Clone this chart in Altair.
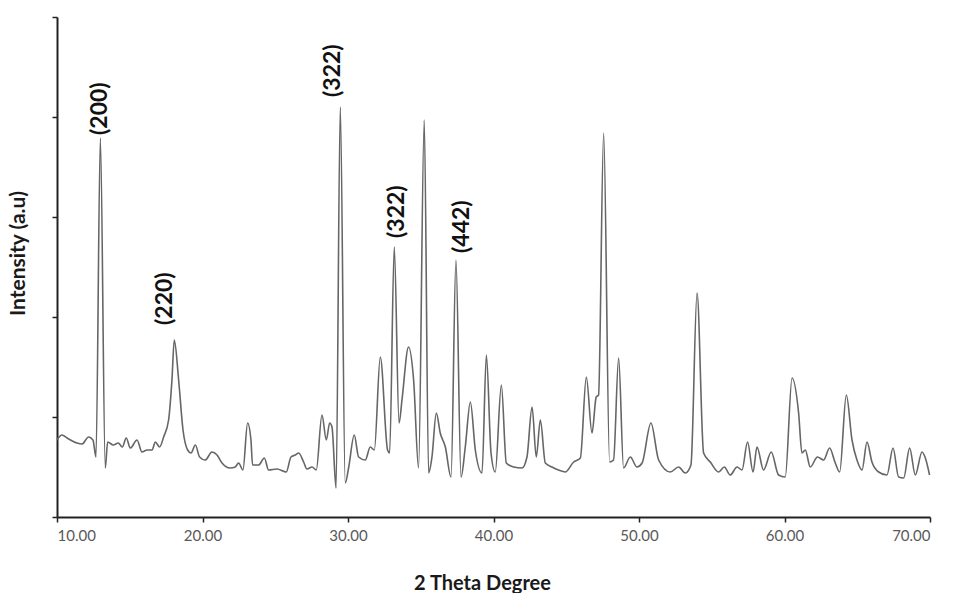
import altair as alt
import pandas as pd

# 2-theta positions (degrees) and intensities (a.u.)
two_theta = [
    10.00, 10.34, 10.69, 11.37, 11.72, 12.17, 12.47, 12.68, 12.98, 13.32,
    13.48, 13.87, 14.21, 14.49, 14.76, 15.04, 15.50, 15.84, 16.19, 16.53,
    16.76, 17.05, 17.33, 17.67, 17.90, 18.06, 18.36, 18.66, 18.98, 19.21,
    19.51, 19.80, 20.19, 20.65, 21.00, 21.34, 21.91, 22.25, 22.48, 22.78,
    23.10, 23.33, 23.44, 23.86, 24.25, 24.54, 25.12, 25.76, 26.08, 26.38,
    26.61, 26.95, 27.18, 27.53, 27.82, 28.21, 28.51, 28.74, 28.90, 29.18,
    29.47, 29.81, 30.04, 30.43, 30.73, 31.19, 31.53, 31.81, 32.22, 32.72,
    32.86, 33.18, 33.51, 33.71, 34.16, 34.51, 34.85, 35.24, 35.54, 35.77,
    36.07, 36.34, 36.69, 37.08, 37.42, 37.77, 38.06, 38.41, 38.75, 39.21,
    39.51, 39.83, 40.12, 40.54, 40.88, 41.38, 41.96, 42.30, 42.65, 42.94,
    43.22, 43.56, 44.02, 44.47, 44.93, 45.51, 45.97, 46.38, 46.77, 47.06,
    47.22, 47.57, 47.98, 48.25, 48.60, 48.94, 49.40, 49.86, 50.21, 50.82,
    51.35, 52.15, 52.72, 53.18, 53.57, 53.99, 54.44, 54.90, 55.47, 55.86,
    56.27, 56.74, 57.08, 57.46, 57.84, 58.11, 58.56, 59.09, 59.59, 60.05,
    60.52, 60.97, 61.20, 61.43, 61.77, 62.27, 62.69, 63.10, 63.49, 63.79,
    64.25, 64.64, 64.98, 65.33, 65.67, 66.01, 66.47, 67.04, 67.46, 67.84,
    68.19, 68.60, 68.99, 69.45, 69.68, 69.97,
]
intensity = [
    77, 82, 79, 74, 73, 80, 77, 60, 379, 49,
    75, 72, 74, 70, 79, 69, 77, 65, 67, 67,
    75, 70, 80, 97, 137, 177, 137, 87, 67, 64,
    72, 60, 57, 65, 62, 54, 49, 50, 54, 47,
    94, 77, 52, 52, 59, 47, 48, 45, 60, 62,
    64, 55, 48, 50, 47, 102, 77, 94, 90, 29,
    410, 34, 49, 82, 60, 57, 70, 67, 160, 67,
    64, 270, 94, 117, 170, 137, 49, 397, 44, 60,
    104, 84, 70, 40, 257, 40, 70, 115, 67, 44,
    162, 64, 45, 132, 54, 50, 49, 60, 110, 60,
    97, 54, 50, 47, 45, 55, 59, 140, 84, 120,
    122, 384, 55, 57, 159, 49, 60, 50, 54, 94,
    57, 45, 50, 44, 52, 224, 64, 55, 45, 50,
    42, 50, 47, 75, 45, 70, 47, 65, 42, 40,
    139, 104, 64, 67, 50, 60, 57, 69, 54, 45,
    122, 77, 57, 47, 75, 55, 45, 42, 69, 40,
    39, 69, 42, 65, 59, 42,
]

# Peak annotations
label_text = ["(200)", "(220)", "(322)", "(322)", "(442)"]
label_x = [12.93, 17.44, 28.99, 33.39, 37.86]
label_y = [382, 192, 420, 279, 264]

curve = pd.DataFrame({"theta": two_theta, "intensity": intensity})
labels = pd.DataFrame({"theta": label_x, "intensity": label_y, "text": label_text})

FONT = "Lato"

x_scale = alt.Scale(domain=[10, 70], nice=False, zero=False)
y_scale = alt.Scale(domain=[0, 500], nice=False)

line = alt.Chart(curve).mark_line(
    color="#666666", strokeWidth=1.6, interpolate="monotone"
).encode(
    x=alt.X(
        "theta:Q",
        scale=x_scale,
        axis=alt.Axis(
            title="2 Theta Degree",
            values=[10, 20, 30, 40, 50, 60, 70],
            format=".2f",
            labelFont=FONT,
            labelFontSize=15,
            labelColor="#595959",
            labelPadding=6,
            tickSize=5,
            tickColor="#222222",
            tickWidth=1.5,
            domainColor="#222222",
            domainWidth=2,
            grid=False,
            titleFont=FONT,
            titleFontSize=20,
            titleFontWeight="bold",
            titleColor="#1a1a1a",
            titleX=425,
            titleY=66,
            titleBaseline="middle",
        ),
    ),
    y=alt.Y(
        "intensity:Q",
        scale=y_scale,
        axis=alt.Axis(
            title="Intensity (a.u)",
            values=[0, 100, 200, 300, 400, 500],
            labels=False,
            tickSize=5,
            tickColor="#222222",
            tickWidth=1.5,
            domainColor="#222222",
            domainWidth=2,
            grid=False,
            titleFont=FONT,
            titleFontSize=21,
            titleFontWeight="bold",
            titleColor="#1a1a1a",
            titleX=-39,
            titleY=236,
            titleAlign="center",
            titleBaseline="middle",
            titleAngle=270,
        ),
    ),
)

text = alt.Chart(labels).mark_text(
    angle=270,
    align="left",
    baseline="middle",
    font=FONT,
    fontSize=23,
    fontWeight="bold",
    color="#111111",
).encode(
    x=alt.X("theta:Q", scale=x_scale),
    y=alt.Y("intensity:Q", scale=y_scale),
    text="text:N",
)

chart = (
    alt.layer(line, text)
    .properties(
        width=873,
        height=500,
        padding={"left": 57, "top": 17, "right": 23, "bottom": 76},
        autosize=alt.AutoSizeParams(type="none"),
        background="white",
    )
    .configure_view(stroke=None)
)

chart.save("out.html", embed_options={"renderer": "svg", "actions": False})
